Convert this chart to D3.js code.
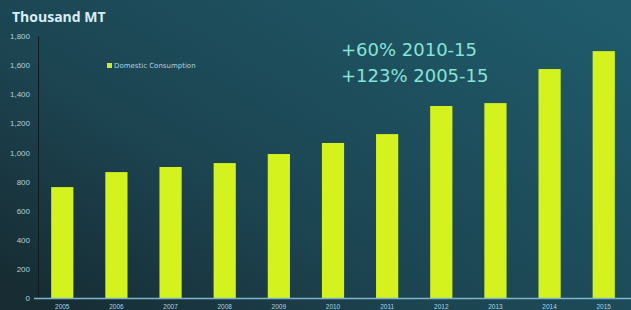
<!DOCTYPE html>
<html>
<head>
<meta charset="utf-8">
<script src="https://cdn.jsdelivr.net/npm/d3@7"></script>
<style>
  html, body { margin: 0; padding: 0; background: #1a3038; }
  svg { display: block; font-family: "Open Sans", "DejaVu Sans", sans-serif; }
</style>
</head>
<body>
<div id="chart"></div>
<script>
// data
const years = ["2005", "2006", "2007", "2008", "2009", "2010", "2011", "2012", "2013", "2014", "2015"];
const consumption = [762, 865, 900, 927, 989, 1065, 1126, 1319, 1339, 1573, 1696];
const yTicks = [0, 200, 400, 600, 800, 1000, 1200, 1400, 1600, 1800];
const notes = ["+60% 2010-15", "+123% 2005-15"];

const width = 631, height = 310;
const margins = { t: 36, b: 12, l: 38, r: 0 };

const svg = d3.select("#chart").append("svg")
  .attr("width", width)
  .attr("height", height);

// background, darker on the left like the projected slide
const defs = svg.append("defs");
const grad = defs.append("linearGradient").attr("id", "bg")
  .attr("x1", "0%").attr("y1", "90%").attr("x2", "100%").attr("y2", "10%");
grad.append("stop").attr("offset", "0%").attr("stop-color", "#172c33");
grad.append("stop").attr("offset", "35%").attr("stop-color", "#1c4350");
grad.append("stop").attr("offset", "100%").attr("stop-color", "#1f5b6b");
svg.append("rect").attr("width", width).attr("height", height).attr("fill", "url(#bg)");

const x = d3.scaleBand()
  .domain(years)
  .range([36, 630])
  .paddingInner(0.59)
  .paddingOuter(0.28);

const y = d3.scaleLinear()
  .domain([0, 1800])
  .range([298, 36]);

// bars
svg.selectAll(".bar")
  .data(consumption)
  .join("rect")
  .attr("class", "bar")
  .attr("x", (d, i) => x(years[i]))
  .attr("y", d => y(d))
  .attr("width", x.bandwidth())
  .attr("height", d => y(0) - y(d))
  .attr("fill", "#d4f21e");

// y axis
const yAxis = d3.axisLeft(y).tickValues(yTicks).tickSize(0).tickPadding(8).tickFormat(d3.format(","));
const yg = svg.append("g").attr("transform", `translate(${margins.l},0)`).call(yAxis);
yg.select(".domain").attr("stroke", "#0e1a1e").attr("stroke-width", 1);
yg.selectAll("text").attr("fill", "#a9d3e0").attr("font-size", 8);

// x axis
const xAxis = d3.axisBottom(x).tickSize(0).tickPadding(6);
const xg = svg.append("g").attr("transform", `translate(0,${y(0)})`).call(xAxis);
xg.select(".domain").attr("d", `M34,0.5H631`).attr("stroke", "#7fb6cc").attr("stroke-width", 1.5);
xg.selectAll("text").attr("fill", "#a9d3e0").attr("font-size", 6.5);

// title
svg.append("text")
  .attr("x", 12).attr("y", 22)
  .attr("fill", "#d8eef5")
  .attr("font-size", 14)
  .attr("font-weight", "bold")
  .text("Thousand MT");

// legend
svg.append("rect").attr("x", 107).attr("y", 63).attr("width", 5).attr("height", 5).attr("fill", "#c8ec30");
svg.append("text")
  .attr("x", 114).attr("y", 68)
  .attr("fill", "#a9d3e0")
  .attr("font-size", 7)
  .attr("font-family", "DejaVu Sans")
  .text("Domestic Consumption");

// growth annotations
svg.selectAll(".note")
  .data(notes)
  .join("text")
  .attr("class", "note")
  .attr("x", 341)
  .attr("y", (d, i) => 56 + i * 26)
  .attr("fill", "#86e4d6")
  .attr("font-size", 18)
  .attr("font-family", "DejaVu Sans")
  .text(d => d);
</script>
</body>
</html>
